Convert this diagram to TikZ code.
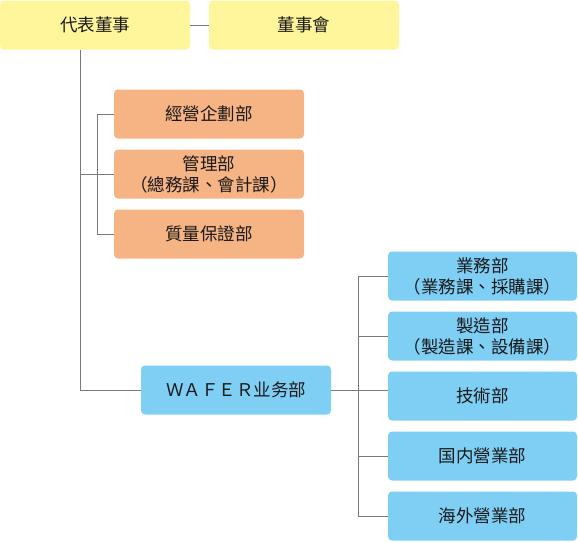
\documentclass[tikz,border=0pt]{standalone}
\usepackage{fontspec}
\setmainfont{Noto Sans CJK TC}
\usetikzlibrary{positioning}
\definecolor{boardyellow}{HTML}{FFF59B}
\definecolor{deptorange}{HTML}{F6B383}
\definecolor{waferblue}{HTML}{7FCEF4}
\definecolor{linkgray}{HTML}{7A7A7A}
\tikzset{every path/.style={linkgray,line width=0.9pt},
         unit/.style={rounded corners=4pt, minimum width=190pt, minimum height=49pt, inner sep=0pt,
                      align=center, text=black!90, font=\fontsize{17.5}{21}\selectfont},
         top/.style={unit, fill=boardyellow},
         hq/.style={unit, fill=deptorange},
         biz/.style={unit, fill=waferblue}}

\begin{document}
\begin{tikzpicture}[x=1pt,y=-1pt]
   \useasboundingbox (0,0) rectangle (578,541);
   % top row
   \node[top] (ceo)   at ( 95.0, 25) {代表董事};
   \node[top] (board) at (304.0, 25) {董事會};
   \draw (ceo) -- (board);
   % head office departments
   \begin{scope}
    \node[hq] (plan)  at (209.0,114) {經營企劃部};
    \node[hq] (admin) at (209.0,174) {管理部\\（總務課、會計課）};
    \node[hq] (qa)    at (209.0,234) {質量保證部};
    \coordinate (trunk) at (80,0);
    \coordinate (hqbar) at (97,0);
    \draw (plan.west) -- (hqbar |- plan) -- (hqbar |- qa) -- (qa.west);
    \draw (trunk |- admin) -- (admin.west);
   \end{scope}
   % wafer business
   \begin{scope}
    \node[biz] (wafer) at (236.0,390) {ＷＡＦＥＲ业务部};
    \node[biz, minimum width=189pt] (sales) at (482.5,276) {業務部\\（業務課、採購課）};
    \node[biz, minimum width=189pt] (mfg)   at (482.5,336) {製造部\\（製造課、設備課）};
    \node[biz, minimum width=189pt] (tech)  at (482.5,396) {技術部};
    \node[biz, minimum width=189pt] (dom)   at (482.5,456) {国内營業部};
    \node[biz, minimum width=189pt] (intl)  at (482.5,516) {海外營業部};
    \coordinate (bizbar) at (358,0);
    \draw (sales.west) -- (bizbar |- sales) -- (bizbar |- intl) -- (intl.west);
    \foreach \d in {mfg,dom}
      \draw (bizbar |- \d) -- (\d.west);
    \draw (wafer.east) -- (tech.west |- wafer);
   \end{scope}
   \draw (ceo.south -| trunk) -- (trunk |- wafer) -- (wafer.west);
\end{tikzpicture}
\end{document}
